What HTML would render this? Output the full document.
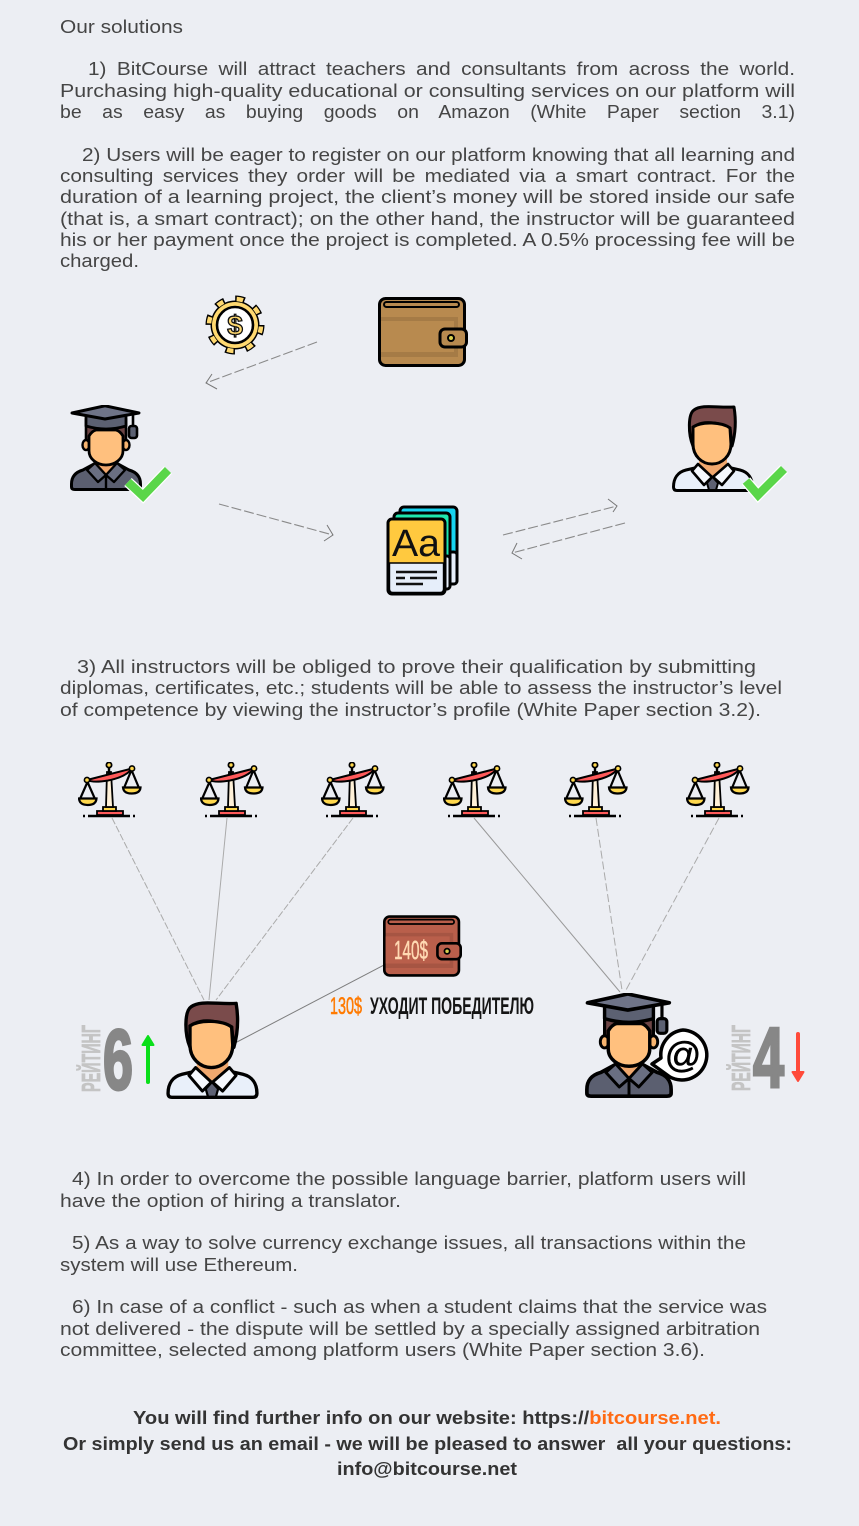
<!DOCTYPE html>
<html lang="en">
<head>
<meta charset="utf-8">
<title>Our solutions</title>
<style>
html,body{margin:0;padding:0;background:#eceef3;}
svg{display:block;}
.t{font-family:"Liberation Sans",sans-serif;font-size:18px;fill:#454545;}
.b{font-family:"Liberation Sans",sans-serif;font-size:18px;font-weight:bold;fill:#333;}
.c{font-family:"Liberation Sans",sans-serif;font-weight:bold;}
.dash{fill:none;stroke:#8a8a8a;stroke-width:1.1;stroke-dasharray:10 3;}
.head{fill:none;stroke:#777;stroke-width:1;}
</style>
</head>
<body>
<svg xmlns="http://www.w3.org/2000/svg" width="859" height="1526" viewBox="0 0 859 1526">
<defs>
  <symbol id="person" viewBox="0 0 82 88">
    <path d="M1.500 83C1.500 74 6 68 14 66L27 63H55L68 66C76 68 80.500 74 80.500 83Q80.500 86.500 77 86.500H5Q1.500 86.500 1.500 83Z" fill="#e9f0fa" stroke="#000" stroke-width="3"/>
    <path d="M27 54H55V63L41 75L27 63Z" fill="#f0a86e"/>
    <path d="M21 42C16 30 16 10 22 6C30 0 45 4 62 3C64 15 64 28 60 42L58 24C50 20 35 16 25 21Z" fill="#7a4b4b" stroke="#000" stroke-width="3" stroke-linejoin="round"/>
    <path d="M21 23C30 17 50 18 58 24L59 40C59 52 50 60 40 60C30 60 21 52 21 40Z" fill="#ffc07e" stroke="#000" stroke-width="3"/>
    <path d="M26 60L40 73L32 81L20 67Z" fill="#f5f8fd" stroke="#000" stroke-width="2.600" stroke-linejoin="round"/>
    <path d="M56 60L41 73L50 81L62 67Z" fill="#f5f8fd" stroke="#000" stroke-width="2.600" stroke-linejoin="round"/>
    <path d="M40.500 73L46 79L44 86H37L35 79Z" fill="#5d6173" stroke="#000" stroke-width="2"/>
  </symbol>
  <symbol id="student" viewBox="0 0 72 86">
    <path d="M1.500 79C1.500 71 6 67 13 65L24 59H48L59 65C66 67 70.500 71 70.500 79V82Q70.500 84.500 67 84.500H5Q1.500 84.500 1.500 82Z" fill="#5b5f70" stroke="#000" stroke-width="3"/>
    <path d="M24 54H48V62L36 72L24 62Z" fill="#f0a86e"/>
    <path d="M25 58L36 70L28 77L17 65ZM47 58L36 70L44 77L55 65Z" fill="#6a6f82" stroke="#000" stroke-width="2.400" stroke-linejoin="round"/>
    <path d="M36 70V85" stroke="#000" stroke-width="2.400"/>
    <path d="M16 14H56V37L53 44H19L16 37Z" fill="#6d4545" stroke="#000" stroke-width="2.600" stroke-linejoin="round"/>
    <ellipse cx="16" cy="40" rx="3.500" ry="5" fill="#f7b46f" stroke="#000" stroke-width="2.400"/>
    <ellipse cx="56" cy="40" rx="3.500" ry="5" fill="#f7b46f" stroke="#000" stroke-width="2.400"/>
    <path d="M19 31Q22 26 26 25H46Q50 26 53 31V46C53 54 45 60 36 60C27 60 19 54 19 46Z" fill="#ffc07e" stroke="#000" stroke-width="2.800"/>
    <path d="M16 10H56V21Q36 27 16 21Z" fill="#5c6172" stroke="#000" stroke-width="2.800" stroke-linejoin="round"/>
    <path d="M2 8L35 .8L69 8L35 14Z" fill="#6f7488" stroke="#000" stroke-width="3" stroke-linejoin="round"/>
    <path d="M63 9V22" stroke="#000" stroke-width="2.600"/>
    <rect x="59" y="21" width="8" height="12" rx="2.500" fill="#5c6172" stroke="#000" stroke-width="2.600"/>
  </symbol>
  <symbol id="wallet" viewBox="0 0 90 70">
    <rect x="1.500" y="1.500" width="85" height="67" rx="6" fill="currentColor" stroke="#000" stroke-width="3"/>
    <path d="M3 20H80V60H3Z" fill="#000" opacity=".1"/>
    <path d="M3 24H76V55H3Z" fill="currentColor"/>
    <rect x="6" y="5" width="75" height="5" rx="2.500" fill="currentColor" stroke="#000" stroke-width="2"/>
    <rect x="62" y="32" width="26.500" height="18" rx="5" fill="currentColor" stroke="#000" stroke-width="3"/>
    <circle cx="73" cy="41" r="3" fill="#d8d050" stroke="#000" stroke-width="2"/>
  </symbol>
  <symbol id="scales" viewBox="0 0 64 56">
    <path d="M5 54H7M10 54H52M55 54H57" stroke="#000" stroke-width="2.400"/>
    <path d="M19 49H45V53H19Z" fill="#ff5a5a" stroke="#000" stroke-width="1.800"/>
    <path d="M25 45H38V49H25Z" fill="#ffd84d" stroke="#000" stroke-width="1.800"/>
    <path d="M29 10H33L35 45H28Z" fill="#fff1d8" stroke="#000" stroke-width="1.800"/>
    <circle cx="31" cy="3" r="2.600" fill="#ffd84d" stroke="#000" stroke-width="1.800"/>
    <path d="M31 5V12" stroke="#000" stroke-width="2.400"/>
    <path d="M9 18L54 6.500Q48 15 30 18.500Q15 21 9 18Z" fill="#ff5a5a" stroke="#000" stroke-width="2" stroke-linejoin="round"/>
    <path d="M9.500 20L2 37M9.500 20L17 37M53.500 8L46 26M53.500 8L61 26" stroke="#000" stroke-width="2.200" fill="none"/>
    <circle cx="9" cy="18" r="2.600" fill="#ffd84d" stroke="#000" stroke-width="1.600"/>
    <circle cx="54" cy="6.500" r="2.600" fill="#ffd84d" stroke="#000" stroke-width="1.600"/>
    <path d="M1 36.500H18.500Q18 43 9.700 43Q1.500 43 1 36.500Z" fill="#ffd84d" stroke="#000" stroke-width="2.200"/>
    <path d="M45 25.500H62.500Q62 31.500 53.700 31.500Q45.500 31.500 45 25.500Z" fill="#ffd84d" stroke="#000" stroke-width="2.200"/>
  </symbol>
</defs>

<rect width="859" height="1526" fill="#eceef3"/>

<g>
<text class="t" x="60" y="33" textLength="123" lengthAdjust="spacingAndGlyphs">Our solutions</text>
</g>
<g>
<text class="t" x="88" y="75" textLength="707" lengthAdjust="spacingAndGlyphs" word-spacing="4">1) BitCourse will attract teachers and consultants from across the world.</text>
<text class="t" x="60" y="97" textLength="735" lengthAdjust="spacingAndGlyphs">Purchasing high-quality educational or consulting services on our platform will</text>
<text class="t" x="60" y="118" textLength="735" lengthAdjust="spacingAndGlyphs" word-spacing="14">be as easy as buying goods on Amazon (White Paper section 3.1)</text>
</g>
<g>
<text class="t" x="82" y="161" textLength="713" lengthAdjust="spacingAndGlyphs">2) Users will be eager to register on our platform knowing that all learning and</text>
<text class="t" x="60" y="182" textLength="735" lengthAdjust="spacingAndGlyphs" word-spacing="3">consulting services they order will be mediated via a smart contract. For the</text>
<text class="t" x="60" y="203" textLength="735" lengthAdjust="spacingAndGlyphs">duration of a learning project, the client’s money will be stored inside our safe</text>
<text class="t" x="60" y="225" textLength="735" lengthAdjust="spacingAndGlyphs">(that is, a smart contract); on the other hand, the instructor will be guaranteed</text>
<text class="t" x="60" y="246" textLength="735" lengthAdjust="spacingAndGlyphs">his or her payment once the project is completed. A 0.5% processing fee will be</text>
<text class="t" x="60" y="267" textLength="79" lengthAdjust="spacingAndGlyphs">charged.</text>
</g>

<g>
  <g>
    <circle cx="235" cy="325" r="26" fill="none" stroke="#000" stroke-width="7" stroke-dasharray="9.500 10.920"/>
    <circle cx="235" cy="325" r="24.500" fill="#000"/>
    <circle cx="235" cy="325" r="26" fill="none" stroke="#ffd970" stroke-width="4.500" stroke-dasharray="6.500 13.920" stroke-dashoffset="-1.500"/>
    <circle cx="235" cy="325" r="23" fill="#ffd970"/>
    <circle cx="235" cy="325" r="18" fill="#fff" stroke="#000" stroke-width="2.600"/>
    <text class="c" x="235" y="335" font-size="28" text-anchor="middle" fill="#ffd970" stroke="#111" stroke-width="1.300">$</text>
  </g>
  <use href="#wallet" x="378" y="297" width="90" height="70" style="color:#b88a4f"/>
  <g>
    <path class="dash" d="M317 342L206 383"/>
    <path class="head" d="M212 374L206 383L217 389"/>
  </g>
  <use href="#student" x="70" y="405" width="72" height="86"/>
  <path d="M128 482L143 496L168 470" fill="none" stroke="#fff" stroke-width="11"/>
  <path d="M128 482L143 496L168 470" fill="none" stroke="#5ad649" stroke-width="8.500"/>
  <g>
    <path class="dash" d="M219 504L333 535"/>
    <path class="head" d="M327 525L333 535L324 541"/>
  </g>
  <g>
    <rect x="400" y="507" width="57" height="77" rx="4" fill="#17d4f0" stroke="#000" stroke-width="3"/>
    <rect x="400" y="552" width="57" height="32" rx="3" fill="#e6eefa" stroke="#000" stroke-width="3"/>
    <rect x="394" y="513" width="56" height="76" rx="4" fill="#1fe6ae" stroke="#000" stroke-width="3"/>
    <rect x="394" y="556" width="56" height="33" rx="3" fill="#e6eefa" stroke="#000" stroke-width="3"/>
    <rect x="388" y="519" width="57" height="75" rx="4" fill="#ffc93f" stroke="#000" stroke-width="3"/>
    <path d="M389.500 563H443.500V589Q443.500 592.500 440 592.500H393Q389.500 592.500 389.500 589Z" fill="#e6eefa" stroke="#000" stroke-width="1.400"/>
    <text x="392" y="556" font-family="'Liberation Sans',sans-serif" font-size="38" fill="#111" textLength="48" lengthAdjust="spacingAndGlyphs">Aa</text>
    <path d="M396 572H437M396 578H405M410 578H437M396 584H423" stroke="#111" stroke-width="2.500"/>
  </g>
  <g>
    <path class="dash" d="M503 535L617 506"/>
    <path class="head" d="M608 499L617 506L613 512"/>
  </g>
  <g>
    <path class="dash" d="M625 523L512 553"/>
    <path class="head" d="M517 543L512 553L522 559"/>
  </g>
  <use href="#person" x="672" y="404" width="82" height="88"/>
  <path d="M746 481L758 495L784 469" fill="none" stroke="#fff" stroke-width="11"/>
  <path d="M746 481L758 495L784 469" fill="none" stroke="#5ad649" stroke-width="8.500"/>
</g>

<g>
<text class="t" x="77" y="673" textLength="679" lengthAdjust="spacingAndGlyphs">3) All instructors will be obliged to prove their qualification by submitting</text>
<text class="t" x="60" y="694" textLength="722" lengthAdjust="spacingAndGlyphs">diplomas, certificates, etc.; students will be able to assess the instructor’s level</text>
<text class="t" x="60" y="716" textLength="701" lengthAdjust="spacingAndGlyphs">of competence by viewing the instructor’s profile (White Paper section 3.2).</text>
</g>

<g>
  <g fill="none" stroke="#aaa" stroke-width="1">
    <path d="M112 818L204 1000" stroke-dasharray="7 2"/>
    <path d="M227 818L209 1000"/>
    <path d="M353 818L216 1000" stroke-dasharray="7 2"/>
    <path d="M474 818L620 992" stroke="#999"/>
    <path d="M596 818L622 990" stroke-dasharray="8 3"/>
    <path d="M719 818L626 990" stroke-dasharray="8 3"/>
    <path d="M384 965L235 1043" stroke="#7d7d7d"/>
  </g>
  <use href="#scales" x="78" y="762" width="64" height="56"/>
  <use href="#scales" x="200" y="762" width="64" height="56"/>
  <use href="#scales" x="321" y="762" width="64" height="56"/>
  <use href="#scales" x="443" y="762" width="64" height="56"/>
  <use href="#scales" x="564" y="762" width="64" height="56"/>
  <use href="#scales" x="686" y="762" width="64" height="56"/>

  <use href="#wallet" x="383" y="915" width="79" height="62" style="color:#b95f4b"/>
  <text class="c" x="394" y="959" font-size="26" fill="#ffd9b3" stroke="#ffd9b3" stroke-width=".5" textLength="34" lengthAdjust="spacingAndGlyphs" style="font-weight:normal">140$</text>
  <text class="c" x="330" y="1014" font-size="24" fill="#ff7a00" stroke="#ff7a00" stroke-width=".6" textLength="32" lengthAdjust="spacingAndGlyphs" style="font-weight:normal">130$</text>
  <text class="c" x="370" y="1014" font-size="24" fill="#151515" textLength="164" lengthAdjust="spacingAndGlyphs">УХОДИТ ПОБЕДИТЕЛЮ</text>

  <g>
    <text class="c" transform="translate(100 1092) rotate(-90)" font-size="26" fill="#c4c4c4" stroke="#c4c4c4" stroke-width=".8" textLength="67" lengthAdjust="spacingAndGlyphs">РЕЙТИНГ</text>
    <text class="c" x="103" y="1089" font-size="85" fill="#878787" stroke="#878787" stroke-width="3" textLength="30" lengthAdjust="spacingAndGlyphs">6</text>
    <path d="M148 1082V1040" stroke="#0adf1a" stroke-width="4" stroke-linecap="round"/>
    <path d="M142.500 1045L148 1036L153.500 1045Z" fill="#0adf1a" stroke="#0adf1a" stroke-width="2" stroke-linejoin="round"/>
  </g>
  <use href="#person" x="166" y="1000" width="93" height="99"/>

  <use href="#student" x="585" y="993" width="88" height="105"/>
  <g>
    <path d="M683 1030A25 25 0 1 1 670 1077L652 1064L661 1058A25 25 0 0 1 683 1030Z" fill="#fff" stroke="#000" stroke-width="3.500" stroke-linejoin="round"/>
    <text class="c" x="683" y="1067" font-size="36" text-anchor="middle" fill="#000" stroke="#000" stroke-width=".6" style="font-weight:normal">@</text>
  </g>
  <g>
    <text class="c" transform="translate(750 1091) rotate(-90)" font-size="26" fill="#c4c4c4" stroke="#c4c4c4" stroke-width=".8" textLength="66" lengthAdjust="spacingAndGlyphs">РЕЙТИНГ</text>
    <text class="c" x="753" y="1087" font-size="85" fill="#878787" stroke="#878787" stroke-width="3" textLength="31" lengthAdjust="spacingAndGlyphs">4</text>
    <path d="M798 1034V1074" stroke="#ff4a3a" stroke-width="4" stroke-linecap="round"/>
    <path d="M792.500 1072L798 1081L803.500 1072Z" fill="#ff4a3a" stroke="#ff4a3a" stroke-width="2" stroke-linejoin="round"/>
  </g>
</g>

<g>
<text class="t" x="72" y="1185" textLength="674" lengthAdjust="spacingAndGlyphs">4) In order to overcome the possible language barrier, platform users will</text>
<text class="t" x="60" y="1207" textLength="341" lengthAdjust="spacingAndGlyphs">have the option of hiring a translator.</text>
</g>
<g>
<text class="t" x="72" y="1249" textLength="674" lengthAdjust="spacingAndGlyphs">5) As a way to solve currency exchange issues, all transactions within the</text>
<text class="t" x="60" y="1271" textLength="238" lengthAdjust="spacingAndGlyphs">system will use Ethereum.</text>
</g>
<g>
<text class="t" x="72" y="1313" textLength="695" lengthAdjust="spacingAndGlyphs">6) In case of a conflict - such as when a student claims that the service was</text>
<text class="t" x="60" y="1335" textLength="700" lengthAdjust="spacingAndGlyphs">not delivered - the dispute will be settled by a specially assigned arbitration</text>
<text class="t" x="60" y="1356" textLength="645" lengthAdjust="spacingAndGlyphs">committee, selected among platform users (White Paper section 3.6).</text>
</g>

<g>
<text class="b" x="133" y="1424" textLength="588" lengthAdjust="spacingAndGlyphs">You will find further info on our website: https://<tspan fill="#ff6a13">bitcourse.net.</tspan></text>
<text class="b" x="63" y="1450" textLength="729" lengthAdjust="spacingAndGlyphs">Or simply send us an email - we will be pleased to answer &#160;all your questions:</text>
<text class="b" x="337" y="1475" textLength="180" lengthAdjust="spacingAndGlyphs">info@bitcourse.net</text>
</g>
</svg>
</body>
</html>
